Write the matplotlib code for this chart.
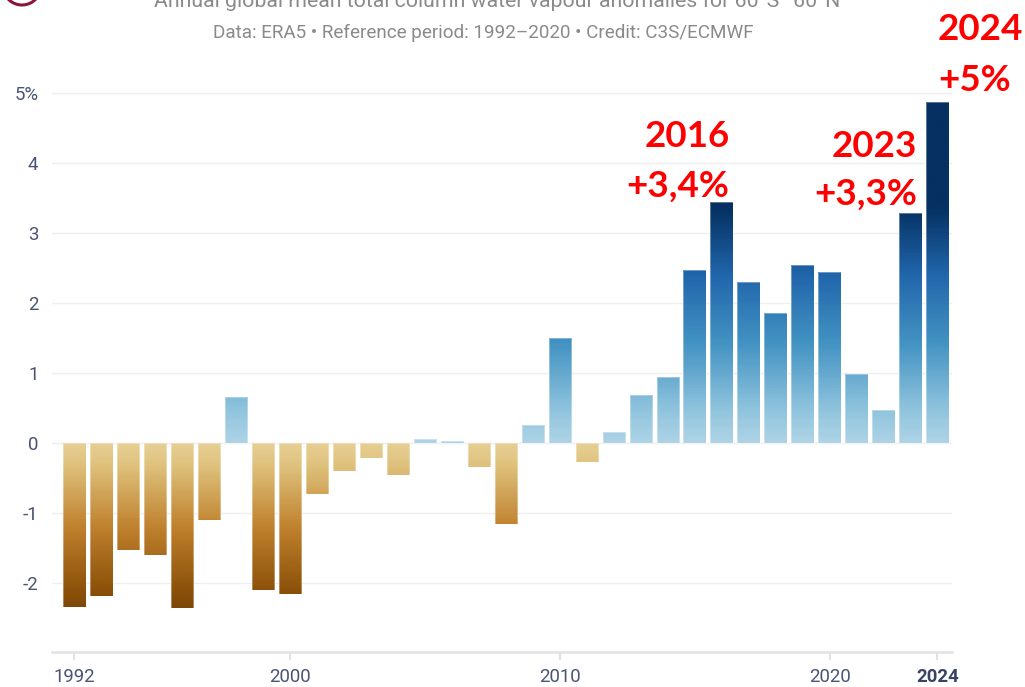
import numpy as np
import matplotlib
matplotlib.use('Agg')
import matplotlib.pyplot as plt
from matplotlib.colors import LinearSegmentedColormap, Normalize
from matplotlib.patches import Arc

# ---------------- data ----------------
years = list(range(1992, 2025))
anomalies = [-2.35, -2.20, -1.53, -1.60, -2.37, -1.10, 0.66, -2.11, -2.16,
             -0.73, -0.41, -0.22, -0.46, 0.05, 0.02, -0.35, -1.17, 0.25,
             1.50, -0.27, 0.16, 0.68, 0.94, 2.47, 3.44, 2.30, 1.86, 2.54,
             2.44, 0.98, 0.47, 3.28, 4.88]
ytick_values = [-2, -1, 0, 1, 2, 3, 4, 5]
ytick_labels = ['-2', '-1', '0', '1', '2', '3', '4', '5%']
xtick_years = [1992, 2000, 2010, 2020, 2024]
xtick_labels = ['1992', '2000', '2010', '2020', '2024']
title = "Annual global mean total column water vapour anomalies for 60°S–60°N"
subtitle = "Data: ERA5 • Reference period: 1992–2020 • Credit: C3S/ECMWF"
callout_years = ['2016', '2023', '2024']
callout_values = ['+3,4%', '+3,3%', '+5%']

# ---------------- style ----------------
plt.rcParams['font.family'] = ['Roboto', 'DejaVu Sans']
W, H = 1025, 687
fig = plt.figure(figsize=(W / 100, H / 100), dpi=100)
fig.patch.set_facecolor('white')

ax_left, ax_right = 51.7, 951.7
ymin, ymax = -3.0, 5.2
y_zero_px, px_per_unit = 442.7, 69.9
top_px = y_zero_px - ymax * px_per_unit
bot_px = y_zero_px - ymin * px_per_unit
ax = fig.add_axes([ax_left / W, 1 - bot_px / H, (ax_right - ax_left) / W, (bot_px - top_px) / H])

pos_cmap = LinearSegmentedColormap.from_list('pos', plt.get_cmap('RdBu')(np.linspace(0.655, 1.0, 256)))
neg_cmap = LinearSegmentedColormap.from_list('neg', plt.get_cmap('BrBG')(np.linspace(0.075, 0.335, 256)))
pos_norm = Normalize(0, 3.4, clip=True)
neg_norm = Normalize(-2.36, 0, clip=True)

bars = ax.bar(years, anomalies, width=0.83, facecolor='none',
              edgecolor=(1, 1, 1, 0.35), linewidth=0.7, zorder=3)
for bar, v in zip(bars, anomalies):
    x0, w = bar.get_x(), bar.get_width()
    lo, hi = min(0, v), max(0, v)
    grad = np.linspace(lo, hi, 200).reshape(-1, 1)
    cmap, norm = (pos_cmap, pos_norm) if v >= 0 else (neg_cmap, neg_norm)
    im = ax.imshow(grad, cmap=cmap, norm=norm, extent=(x0, x0 + w, lo, hi),
                   origin='lower', aspect='auto', interpolation='bilinear', zorder=2)
    im.set_clip_path(bar)

ax.set_xlim(1991.16, 2024.53)
ax.set_ylim(ymin, ymax)

# grid
for yv in ytick_values:
    ax.axhline(yv, color='#efefef', lw=1.0, zorder=1)

for s in ['top', 'right', 'left']:
    ax.spines[s].set_visible(False)
ax.spines['bottom'].set_color('#e2e2e2')
ax.spines['bottom'].set_linewidth(1.8)

tick_color = '#4a5475'
ax.set_yticks(ytick_values)
ax.set_yticklabels(ytick_labels)
ax.tick_params(axis='y', length=0, pad=9.5, labelsize=13.4, labelcolor=tick_color)
ax.set_xticks(xtick_years)
ax.set_xticklabels(xtick_labels)
ax.tick_params(axis='x', length=5.5, width=1.5, color='#e2e2e2', pad=6,
               labelsize=13.4, labelcolor=tick_color)
ax.get_xticklabels()[-1].set_fontweight('bold')
ax.get_xticklabels()[-1].set_color('#3a4462')

# titles
fig.text(497 / W, 1 - 7 / H, title, ha='center', va='baseline',
         fontsize=15.3, color='#8a8a8a')
fig.text(483.5 / W, 1 - 33 / H, subtitle, ha='center', va='center',
         fontsize=13.6, color='#8a8a8a')

# logo fragment
fig.add_artist(Arc((0.22, 7.01), 0.38, 0.38, theta1=195, theta2=335,
                   transform=fig.dpi_scale_trans, color='#8b1538', lw=2.2))

# red callouts (pixel positions of the overlay text)
red = '#ff0000'
cfont = dict(family=['Lato', 'DejaVu Sans'], fontweight='bold', fontsize=26.5, color=red)
fig.text(730 / W, 1 - 146.7 / H, callout_years[0], ha='right', va='baseline', **cfont)
fig.text(729 / W, 1 - 197 / H, callout_values[0], ha='right', va='baseline', **cfont)
fig.text(917 / W, 1 - 157 / H, callout_years[1], ha='right', va='baseline', **cfont)
fig.text(917 / W, 1 - 205 / H, callout_values[1], ha='right', va='baseline', **cfont)
fig.text(938 / W, 1 - 40 / H, callout_years[2], ha='left', va='baseline', **cfont)
fig.text(938 / W, 1 - 91 / H, callout_values[2], ha='left', va='baseline', **cfont)

fig.savefig('out.png', dpi=100, facecolor='white')
